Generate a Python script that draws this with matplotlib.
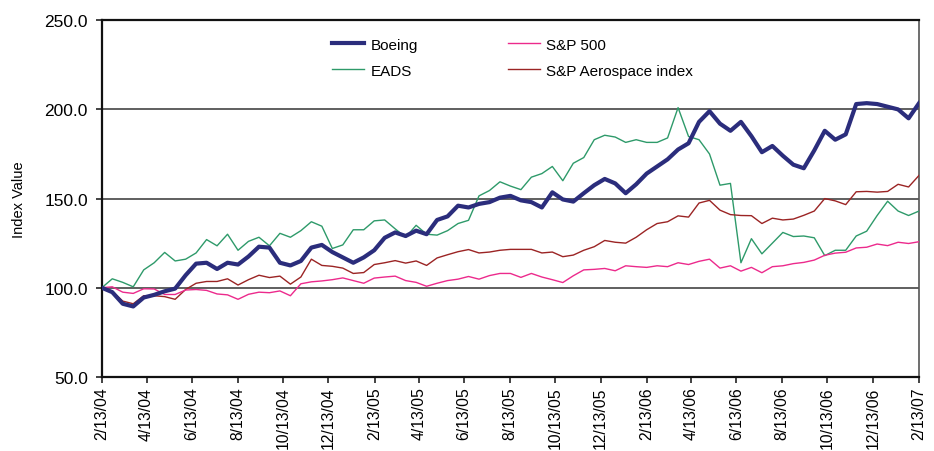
# -*- coding: utf-8 -*-
"""
Boeing vs EADS vs S&P indices, indexed to 100 at 2/13/04 (biweekly readings)
"""

import numpy as np
import pandas as pd
import matplotlib
matplotlib.use('Agg')
import matplotlib.pyplot as plt

plt.rcParams['font.family'] = ['Liberation Sans', 'DejaVu Sans']

# data, one value every two weeks from 2/13/04 to 2/13/07
boeing = [100, 97.5, 91, 89.5, 94.5, 96, 98, 99.5, 107, 113.5,
          114, 110.5, 114, 113, 117.5, 123, 122.5, 114, 112.5, 115,
          122.5, 124, 120, 117, 114, 117, 121, 128, 131, 129,
          132, 130, 138, 140, 146, 145, 147, 148, 150.5, 151.5,
          149, 148, 145, 153.5, 149.5, 148.3, 153, 157.5, 161, 158.5,
          153, 158, 164, 168, 172, 177.5, 181, 193, 199, 192,
          188, 193, 185, 176, 179.5, 174, 169, 167, 177, 188,
          183, 186, 203, 203.5, 203, 201.5, 200, 195, 203.5]
eads = [100, 105, 103, 100.5, 110, 114, 119.8, 115, 116, 119.5,
        127, 123.5, 130, 121, 126, 128.3, 123.5, 130.5, 128.3, 132,
        137, 134.5, 122, 124, 132.5, 132.5, 137.5, 138, 133, 128.3,
        135, 130, 129.5, 132, 136, 137.8, 151.5, 154.5, 159.4, 157,
        155, 162, 164, 168, 160, 169.8, 173, 183, 185.5, 184.5,
        181.5, 183, 181.5, 181.5, 184, 201, 184.8, 183, 175, 157.5,
        158.5, 114, 127.5, 119, 125, 131, 128.7, 129, 128, 118,
        121, 121, 129, 131.7, 140.5, 148.5, 143, 140.5, 143]
sp500 = [100, 100.5, 97.5, 96.8, 99.4, 99.3, 96.2, 96.2, 98.7, 99,
         98.5, 96.5, 96, 93.5, 96.3, 97.5, 97.2, 98.2, 95.5, 102.2,
         103.3, 103.8, 104.5, 105.5, 104, 102.5, 105.4, 106, 106.5, 104,
         103, 100.8, 102.5, 104, 104.8, 106.3, 104.8, 106.8, 108, 108,
         105.8, 108, 106, 104.5, 102.9, 106.7, 110, 110.3, 110.8, 109.5,
         112.3, 111.8, 111.4, 112.3, 111.8, 114, 113, 114.8, 116, 111,
         112.3, 109.3, 111.4, 108.4, 111.8, 112.3, 113.5, 114.2, 115.5, 118.2,
         119.4, 119.9, 122.3, 122.7, 124.5, 123.6, 125.5, 124.8, 125.8]
aero = [100, 98, 92.5, 91, 95.5, 95.5, 95, 93.5, 99, 102.5,
        103.5, 103.5, 105, 101.5, 104.5, 107, 105.7, 106.5, 102, 106,
        116, 112.5, 112, 111, 108, 108.5, 113, 114, 115.2, 113.8,
        115, 112.5, 116.7, 118.5, 120.2, 121.4, 119.5, 120, 121, 121.5,
        121.5, 121.5, 119.5, 120, 117.4, 118.3, 121, 123, 126.5, 125.5,
        125, 128.3, 132.5, 136, 137, 140.3, 139.6, 147.5, 149, 143.5,
        141, 140.5, 140.4, 136, 139, 138, 138.5, 140.6, 143, 150,
        148.7, 146.6, 153.8, 154, 153.6, 154, 158, 156.5, 163]

start, end = '2004-02-13', '2007-02-13'
dates = pd.date_range(start, end, periods=len(boeing))

# x ticks: the 13th of every second month
tick_dates = pd.date_range('2004-02-01', '2007-02-01', freq='2MS') + pd.Timedelta(days=12)
tick_labels = [f"{d.month}/{d.day}/{d.strftime('%y')}" for d in tick_dates]
y_ticks = [50, 100, 150, 200, 250]

fig, ax = plt.subplots(figsize=(9.34, 4.52), dpi=100)
fig.subplots_adjust(left=0.109, right=0.984, top=0.953, bottom=0.164)

ax.plot(dates, eads, color='#2E9A6A', lw=1.0, label='EADS', zorder=3)
ax.plot(dates, aero, color='#9B2424', lw=1.0, label='S&P Aerospace index', zorder=3)
ax.plot(dates, sp500, color='#EC2A8C', lw=1.0, label='S&P 500', zorder=3)
ax.plot(dates, boeing, color='#2B2D7C', lw=3.0, label='Boeing', zorder=4)

ax.set_ylim(50, 250)
ax.set_yticks(y_ticks)
ax.set_yticklabels([f'{v:.1f}' for v in y_ticks], fontsize=12.5)
for v in [100, 150, 200]:
    ax.axhline(v, color='#444444', lw=1.2, zorder=1)

ax.set_xlim(pd.Timestamp(start), pd.Timestamp(end))
ax.set_xticks(tick_dates)
ax.set_xticklabels(tick_labels, rotation=90, fontsize=11.3)
ax.tick_params(axis='both', direction='out', length=4, width=1.2, color='#222222')
ax.tick_params(axis='x', pad=3)
ax.tick_params(axis='y', pad=6)

ax.set_ylabel('Index Value', fontsize=10.5, labelpad=13)

for side in ['left', 'bottom', 'top']:
    ax.spines[side].set_linewidth(1.6)
    ax.spines[side].set_color('#111111')
ax.spines['right'].set_linewidth(1.2)
ax.spines['right'].set_color('#555555')

# legend order: Boeing, EADS | S&P 500, S&P Aerospace index
handles, labels = ax.get_legend_handles_labels()
order = [labels.index(n) for n in ['Boeing', 'EADS', 'S&P 500', 'S&P Aerospace index']]
ax.legend([handles[i] for i in order], [labels[i] for i in order],
          ncol=2, frameon=False, fontsize=11, loc='upper left',
          bbox_to_anchor=(0.265, 0.99), columnspacing=5.9, handlelength=2.1,
          handletextpad=0.4, labelspacing=0.8)

plt.savefig('out.png', dpi=100)
plt.close()
